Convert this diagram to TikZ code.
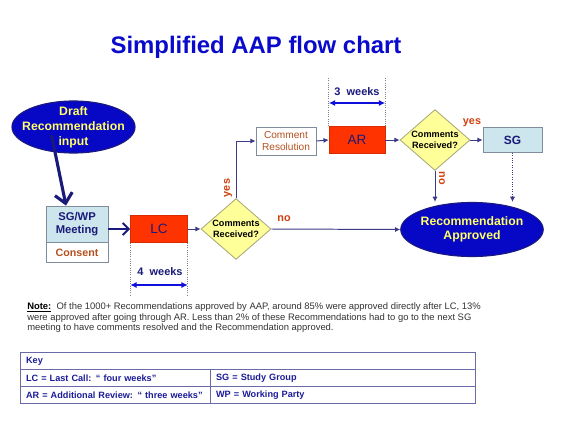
\documentclass[tikz,border=0pt]{standalone}
\usepackage{fontspec}
\setmainfont{Liberation Sans}
\usetikzlibrary{positioning,calc,arrows.meta,shapes.geometric}
\definecolor{ttlblue}{HTML}{0A0ACC}
\definecolor{bubfill}{HTML}{0707C6}
\definecolor{bubedge}{HTML}{1A1A80}
\definecolor{bubtext}{HTML}{FFFF66}
\definecolor{navy}{HTML}{1A1A7A}
\definecolor{flowc}{HTML}{3A3A88}
\definecolor{lblue}{HTML}{CDE5EC}
\definecolor{boxedge}{HTML}{7F8C9C}
\definecolor{callred}{HTML}{FF3300}
\definecolor{decfill}{HTML}{FFFF99}
\definecolor{decedge}{HTML}{A8A878}
\definecolor{ansred}{HTML}{D04010}
\definecolor{resbrown}{HTML}{B5501E}
\definecolor{dimblue}{HTML}{1010DD}
\definecolor{keyedge}{HTML}{6A6AA8}
\definecolor{keytext}{HTML}{1C1C99}
\definecolor{notegrey}{HTML}{333333}
\tikzset{
  ttl/.style     ={font=\fontsize{17}{20}\selectfont\bfseries, text=ttlblue},
  bubble/.style  ={ellipse, draw=bubedge, line width=0.8pt, fill=bubfill, text=bubtext,
                   align=center, inner sep=-20pt, font=\fontsize{8.7}{10.7}\selectfont\bfseries},
  meetbox/.style ={draw=boxedge, line width=0.6pt, fill=lblue, text=navy, align=center,
                   minimum width=1.55cm, minimum height=0.9cm, inner sep=0pt,
                   font=\fontsize{8}{8.8}\selectfont\bfseries},
  consbox/.style ={draw=boxedge, line width=0.6pt, fill=white, text=resbrown,
                   minimum width=1.55cm, minimum height=0.48cm, inner sep=0pt,
                   font=\fontsize{7.6}{9}\selectfont\bfseries},
  redbox/.style  ={draw=callred!85!black, line width=0.4pt, fill=callred, text=navy,
                   minimum width=1.43cm, minimum height=0.675cm, inner sep=0pt,
                   font=\fontsize{9.6}{11}\selectfont},
  resbox/.style  ={draw=boxedge, line width=0.6pt, fill=white, text=resbrown, align=center,
                   minimum width=1.5cm, minimum height=0.7cm, inner sep=0pt,
                   font=\fontsize{7.2}{8.8}\selectfont},
  sgbox/.style   ={draw=boxedge, line width=0.6pt, fill=lblue, text=navy,
                   minimum width=1.475cm, minimum height=0.625cm, inner sep=0pt,
                   font=\fontsize{8.5}{10}\selectfont\bfseries},
  decision/.style={diamond, draw=decedge, line width=0.6pt, fill=decfill, text=black,
                   align=center, inner sep=-5pt, minimum width=1.75cm, minimum height=1.52cm,
                   font=\fontsize{6.5}{8}\selectfont\bfseries},
  answer/.style  ={text=ansred, inner sep=0pt, font=\fontsize{7.7}{9}\selectfont\bfseries},
  weeks/.style   ={text=navy, inner sep=0pt, font=\fontsize{7.8}{9}\selectfont\bfseries},
  flow/.style    ={-{Latex[length=1.3mm,width=1.3mm]}, line width=0.7pt, draw=flowc},
  dotflow/.style ={flow, densely dotted},
  bigflow/.style ={-{Straight Barb[length=2.4mm,width=4.4mm]}, line width=2.2pt, draw=navy},
  midflow/.style ={-{Straight Barb[length=1.5mm,width=3mm]}, line width=1.4pt, draw=navy},
  dimarrow/.style={{Latex[length=1.6mm,width=1.5mm]}-{Latex[length=1.6mm,width=1.5mm]},
                   line width=1.1pt, draw=dimblue},
  dimguide/.style={draw=gray, densely dotted, line width=0.6pt},
  keycell/.style ={draw=keyedge, line width=0.7pt, anchor=north west, align=left,
                   minimum height=0.425cm, inner xsep=4pt, inner ysep=0pt, text=keytext,
                   font=\fontsize{6.5}{8}\selectfont\bfseries},
  notetext/.style={anchor=north west, align=left, inner sep=0pt, text=notegrey,
                   font=\fontsize{6.7}{7.5}\selectfont},
}

\begin{document}
\begin{tikzpicture}[x=0.025cm, y=-0.025cm]

  % ---- page ----
  \fill[white] (0,0) rectangle (561,421);
  \useasboundingbox (0,0) rectangle (561,421);

  % ---- title ----
  \node[ttl] (title) at (256,47) {Simplified AAP flow chart};

  % ---- input and first meeting ----
  \node[bubble, minimum width=3.075cm, minimum height=1.3cm] (draft) at (73.5,127)
       {Draft\\Recommendation\\input};
  \node[meetbox] (sgwp) at (77,224) {SG/WP\\Meeting};
  \node[consbox, below=0pt of sgwp] (cons) {Consent};
  \draw[bigflow] ($(draft.center)+(-22,8)$) -- ($(sgwp.north)+(-11,0)$);

  % ---- last call ----
  \node[redbox] (lc) at (159,229) {LC};
  \draw[midflow] (sgwp.east |- lc.west) -- (lc.west);
  \node[decision] (dec1) at (236,229) {Comments\\Received?};
  \draw[flow] (lc.east) -- (dec1.west);
  \node[answer, rotate=90] (yes1) at (228,188) {yes};
  \node[answer] (no1) at (284,219) {no};

  % ---- 4 weeks span ----
  \draw[dimguide] (lc.south west) -- ++(0,52);
  \draw[dimguide] (lc.south east) -- ++(0,52);
  \coordinate (fourwk) at (160,285);
  \draw[dimarrow] (lc.south west |- fourwk) -- (lc.south east |- fourwk);
  \node[weeks] (lcweeks) at (160,272) {4\ \ weeks};

  % ---- comment resolution and additional review ----
  \node[resbox] (cres) at (286,141) {Comment\\Resolution};
  \node[redbox, minimum width=1.4cm] (ar) at (357,140) {AR};
  \draw[flow] (dec1.north) |- (cres.west);
  \draw[flow] (cres.east) -- (ar.west);
  \node[decision] (dec2) at (435,140) {Comments\\Received?};
  \draw[flow] (ar.east) -- (dec2.west);
  \node[answer] (yes2) at (472,123) {yes};
  \node[answer, rotate=-90] (no2) at (442,178) {no};
  \node[sgbox] (sg) at (512.5,140) {SG};
  \draw[flow] (dec2.east) -- (sg.west);

  % ---- 3 weeks span ----
  \draw[dimguide] (ar.north west) -- ++(0,-48);
  \draw[dimguide] (ar.north east) -- ++(0,-48);
  \coordinate (threewk) at (357,103);
  \draw[dimarrow] (ar.north west |- threewk) -- (ar.north east |- threewk);
  \node[weeks] (arweeks) at (357,92) {3\ \ weeks};

  % ---- approval ----
  \node[bubble, minimum width=3.56cm, minimum height=1.35cm,
        font=\fontsize{8.7}{10}\selectfont\bfseries] (ra) at (472,229.5)
       {Recommendation\\Approved};
  \draw[flow] (dec1.east) -- (ra.west);
  \draw[flow] (dec2.south) -- (dec2.south |- ra.north);
  \draw[dotflow] (sg.south) -- (sg.south |- ra.north);

  % ---- note ----
  \node[notetext] (note) at (27,302.5)
       {\textcolor{black}{\underline{\textbf{Note:}}}\ \ Of the 1000+ Recommendations approved by AAP, around 85\% were approved directly after LC, 13\%\\
        were approved after going through AR. Less than 2\% of these Recommendations had to go to the next SG\\
        meeting to have comments resolved and the Recommendation approved.};

  % ---- key ----
  \node[keycell, text width=11.09cm] (keyhd) at (20,352) {Key};
  \node[keycell, text width=4.47cm]  (keylc) at (20,369) {LC = Last Call: “ four weeks”};
  \node[keycell, text width=6.34cm]  (keysg) at (210,369) {SG = Study Group};
  \node[keycell, text width=4.47cm]  (keyar) at (20,386) {AR = Additional Review: “ three weeks”};
  \node[keycell, text width=6.34cm]  (keywp) at (210,386) {WP = Working Party};

\end{tikzpicture}
\end{document}
